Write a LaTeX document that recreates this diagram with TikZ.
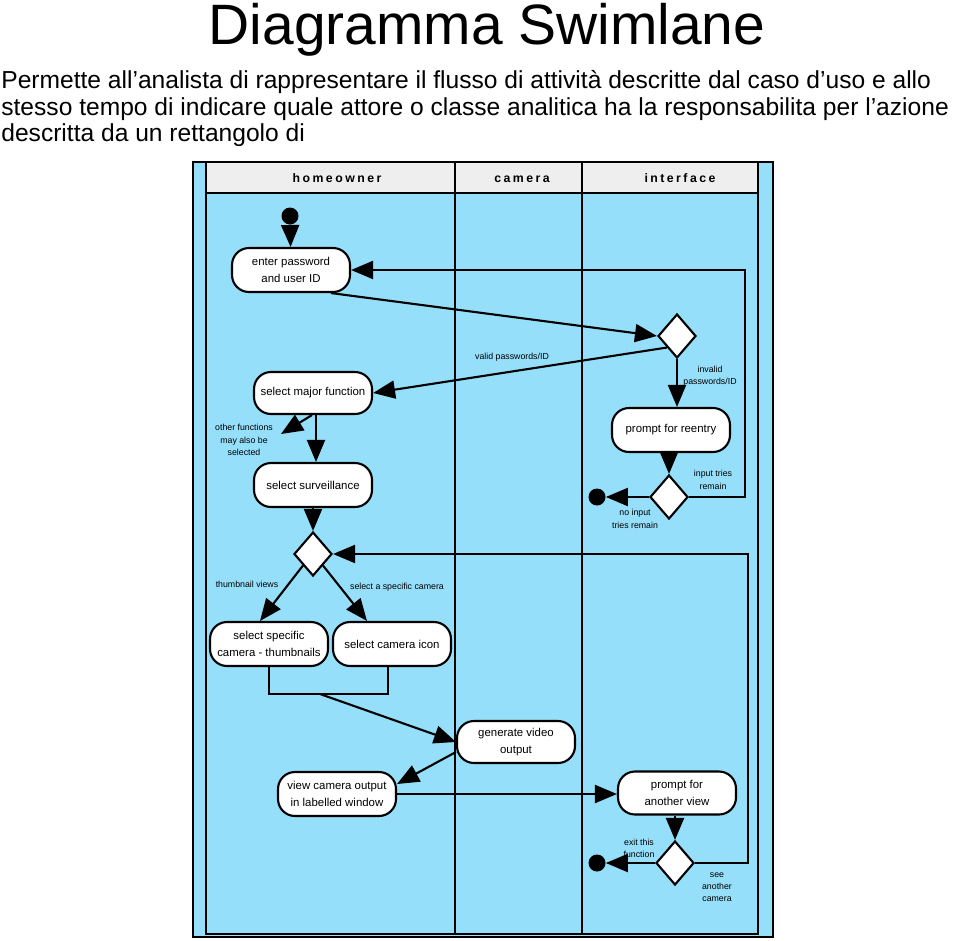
\documentclass[tikz,border=0pt]{standalone}
\usepackage{fontspec}
\setmainfont{Liberation Sans}
\usetikzlibrary{shapes.geometric,arrows.meta,positioning}
\definecolor{lane}{RGB}{150,223,250}
\definecolor{head}{RGB}{238,238,238}

\begin{document}
\begin{tikzpicture}[x=0.02cm, y=-0.02cm,
	act/.style={draw, fill=white, line width=1.2pt, rounded corners=0.34cm, minimum width=2.36cm, minimum height=0.88cm, align=center, inner sep=1pt, font=\fontsize{6.5}{9.5}\selectfont},
	choice/.style={diamond, draw, fill=white, line width=1.2pt, minimum width=0.76cm, minimum height=0.88cm, inner sep=0pt},
	final/.style={circle, fill=black, minimum size=0.34cm, inner sep=0pt},
	flow/.style={line width=1.2pt, -{Triangle[length=0.44cm, width=0.36cm]}},
	guard/.style={align=center, inner sep=0pt, font=\fontsize{5}{7}\selectfont},
	lanehead/.style={anchor=base, font=\bfseries\fontsize{7}{8}\selectfont\addfontfeature{LetterSpace=20}}]
	\useasboundingbox (0,0) rectangle (960,940);

	\node [anchor=base, font=\fontsize{32.4}{38}\selectfont] (title) at (487,44) {Diagramma Swimlane};
	\node [anchor=north west, align=left, inner sep=0pt, font=\fontsize{14}{15.2}\selectfont] (intro) at (1,70)
		{Permette all’analista di rappresentare il flusso di attività descritte dal caso d’uso e allo\\
		stesso tempo di indicare quale attore o classe analitica ha la responsabilita per l’azione\\
		descritta da un rettangolo di};

	\draw [fill=lane	, line width=0.8pt] (193,162) rectangle (773,937);
	\draw [line width=0.8pt] (206,162) rectangle (758,934);
	\draw [fill=head	, line width=0.8pt] (206,162) rectangle (758,193);
	\draw [line width=0.8pt] (455,162) -- (455,934) (582,162) -- (582,934);
	\node [lanehead] (hHome) at (337,182) {homeowner};
	\node [lanehead] (hCam) at (522,182) {camera};
	\node [lanehead] (hInt) at (680,182) {interface};

	\node [final] (start) at (290,216) {};
	\node [act] (pwd) at (291,270) {enter password\\and user ID};
	\node [choice] (dec1) at (677,336) {};
	\node [act, minimum height=0.84cm] (major) at (313,393) {select major function};
	\node [act] (reentry) at (671,430) {prompt for reentry};
	\node [choice] (dec2) at (669,497) {};
	\node [final] (end1) at (597,497) {};
	\node [act] (surv) at (313,485) {select surveillance};
	\node [choice] (dec3) at (313,554) {};
	\node [act] (thumbs) at (269,644) {select specific\\camera - thumbnails};
	\node [act] (icon) at (392,644) {select camera icon};
	\node [act, minimum height=0.84cm] (video) at (516,742) {generate video\\output};
	\node [act] (view) at (337,794) {view camera output\\in labelled window};
	\node [act, minimum height=0.86cm] (another) at (677,793) {prompt for\\another view};
	\node [choice] (dec4) at (675,863) {};
	\node [final] (end2) at (597,863) {};

	\coordinate (loopA) at (745,0);
	\coordinate (loopB) at (748,0);
	\coordinate (otherTip) at (281,434);
	\coordinate (joinL) at (269,694);
	\coordinate (joinR) at (388,694);
	\coordinate (bar) at (320,694);

	\draw [flow] (start) -- (pwd);
	\draw [flow] ([xshift=0.8cm]pwd.south) -- (dec1.west);
	\draw [flow] (dec1.south west) -- (major.east);
	\draw [flow] (dec1.south) -- (dec1.south |- reentry.north);
	\draw [flow] (reentry.south -| dec2.north) -- (dec2.north);
	\draw [flow] (dec2.west) -- (end1);
	\draw [flow] (dec2.east) -- (dec2.east -| loopA) |- (pwd.east);
	\draw [flow] ([xshift=-0.02cm]major.south) -- (otherTip);
	\draw [flow] ([xshift=0.06cm]major.south) -- ([xshift=0.06cm]surv.north);
	\draw [flow] (surv.south) -- (dec3.north);
	\draw [flow] (dec3.south west) -- ([xshift=-0.18cm]thumbs.north);
	\draw [flow] (dec3.south east) -- ([xshift=-0.5cm]icon.north);
	\draw [line width=1.2pt] (thumbs.south) -- (joinL) -- (joinR) -- (joinR |- icon.south);
	\draw [flow] (bar) -- (video.west);
	\draw [flow] ([yshift=-0.2cm]video.west) -- ([yshift=0.2cm]view.east);
	\draw [flow] (view.east) -- (view.east -| another.west);
	\draw [flow] (another.south -| dec4.north) -- (dec4.north);
	\draw [flow] (dec4.west) -- (end2);
	\draw [flow] (dec4.east) -- (dec4.east -| loopB) |- (dec3.east);

	\node [guard] (lValid) at (512,357) {valid passwords/ID};
	\node [guard] (lInvalid) at (710,376) {invalid\\passwords/ID};
	\node [guard] (lTries) at (713,480) {input tries\\remain};
	\node [guard] (lNoInput) at (635,519) {no input\\tries remain};
	\node [guard] (lOther) at (244,440) {other functions\\may also be\\selected};
	\node [guard] (lThumb) at (247,584) {thumbnail views};
	\node [guard] (lSpecific) at (397,587) {select a specific camera};
	\node [guard] (lExit) at (639,848) {exit this\\function};
	\node [guard] (lSee) at (717,887) {see\\another\\camera};
\end{tikzpicture}
\end{document}
